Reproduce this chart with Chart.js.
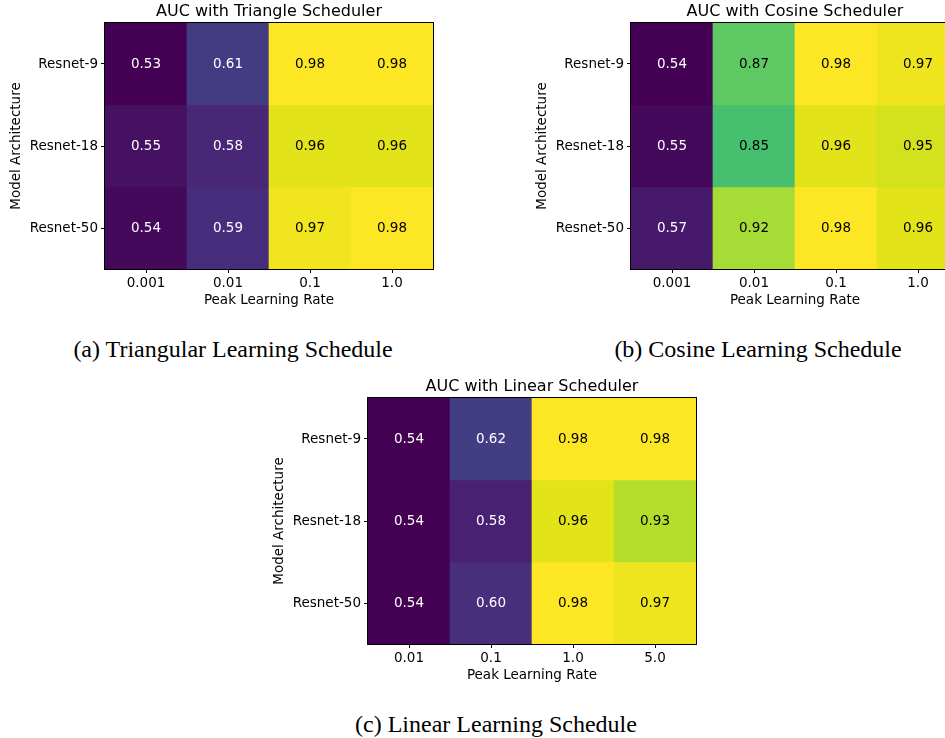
<!DOCTYPE html>
<html>
<head>
<meta charset="utf-8">
<script src="https://cdn.jsdelivr.net/npm/chart.js@4.4.1/dist/chart.umd.min.js"></script>
<style>
  html, body { margin: 0; padding: 0; background: #fff; width: 945px; height: 738px; overflow: hidden; }
  body { position: relative; }
  canvas { position: absolute; }
  .cap { position: absolute; width: 500px; text-align: center; font-family: 'Liberation Serif', 'Times New Roman', serif; font-size: 24px; line-height: 24px; color: #000; white-space: nowrap; }
</style>
</head>
<body>
<canvas id="triangle" width="450" height="320" style="left:0px;top:0px"></canvas>
<canvas id="cosine" width="450" height="320" style="left:526px;top:0px"></canvas>
<canvas id="linear" width="450" height="320" style="left:263px;top:375px"></canvas>
<div class="cap" style="left:-17px;top:337px">(a) Triangular Learning Schedule</div>
<div class="cap" style="left:508px;top:337px">(b) Cosine Learning Schedule</div>
<div class="cap" style="left:246px;top:712px">(c) Linear Learning Schedule</div>
<script>
// rows top to bottom
const models = ['Resnet-9', 'Resnet-18', 'Resnet-50'];

const lrTriangle = ['0.001', '0.01', '0.1', '1.0'];
const lrCosine = ['0.001', '0.01', '0.1', '1.0'];
const lrLinear = ['0.01', '0.1', '1.0', '5.0'];

const aucTriangle = [
  [0.53, 0.61, 0.98, 0.98],
  [0.55, 0.58, 0.96, 0.96],
  [0.54, 0.59, 0.97, 0.98]
];
const aucCosine = [
  [0.54, 0.87, 0.98, 0.97],
  [0.55, 0.85, 0.96, 0.95],
  [0.57, 0.92, 0.98, 0.96]
];
const aucLinear = [
  [0.54, 0.62, 0.98, 0.98],
  [0.54, 0.58, 0.96, 0.93],
  [0.54, 0.60, 0.98, 0.97]
];

// viridis colour map, sampled every 0.05
const viridis = ['#440154','#471365','#482475','#46337f','#414487','#3b528b','#355f8d','#2f6c8e','#2a788e','#25848e',
  '#21918c','#1e9b8a','#22a884','#2fb47c','#44bf70','#5ec962','#7ad151','#9fda3a','#bddf26','#dfe318','#fde725'];

function hexToRgb(h) {
  return [parseInt(h.slice(1,3),16), parseInt(h.slice(3,5),16), parseInt(h.slice(5,7),16)];
}
function cmap(t) {
  t = Math.max(0, Math.min(1, t));
  const pos = t * (viridis.length - 1);
  const i = Math.min(Math.floor(pos), viridis.length - 2);
  const f = pos - i;
  const a = hexToRgb(viridis[i]), b = hexToRgb(viridis[i+1]);
  const c = a.map((v, k) => Math.round(v + (b[k] - v) * f));
  return 'rgb(' + c.join(',') + ')';
}

Chart.defaults.font.family = 'DejaVu Sans';
Chart.defaults.font.size = 13.5;
Chart.defaults.color = '#000';

const heatPlugin = {
  id: 'heat',
  afterDatasetsDraw(chart) {
    const ctx = chart.ctx;
    const a = chart.chartArea;
    const xs = chart.scales.x, ys = chart.scales.y;
    const o = chart.options.plugins.heat;
    ctx.save();
    ctx.font = '13.5px DejaVu Sans';
    ctx.textAlign = 'center';
    ctx.textBaseline = 'middle';
    o.values.forEach((row, i) => {
      const r = o.values.length - 1 - i;
      row.forEach((v, j) => {
        const t = (v - o.min) / (o.max - o.min);
        ctx.fillStyle = t < 0.5 ? '#fff' : '#000';
        ctx.fillText(v.toFixed(2), xs.getPixelForValue(j), ys.getPixelForValue(r + 0.5));
      });
    });
    ctx.strokeStyle = '#000';
    ctx.lineWidth = 1;
    ctx.strokeRect(a.left - 0.5, a.top - 0.5, a.right - a.left + 1, a.bottom - a.top + 1);
    ctx.font = '16px DejaVu Sans';
    ctx.fillStyle = '#000';
    ctx.fillText(o.title, (a.left + a.right) / 2, 12);
    ctx.restore();
  }
};

function makeHeatmap(id, title, lrs, auc) {
  const flat = auc.flat();
  const min = Math.min(...flat), max = Math.max(...flat);
  const datasets = auc.map((row, i) => {
    const r = auc.length - 1 - i;
    return {
      label: models[i],
      data: row.map(() => [r, r + 1]),
      backgroundColor: row.map(v => cmap((v - min) / (max - min))),
      borderWidth: 0,
      barPercentage: 1,
      categoryPercentage: 1,
      grouped: false
    };
  });
  new Chart(document.getElementById(id), {
    type: 'bar',
    data: { labels: lrs, datasets: datasets },
    plugins: [heatPlugin],
    options: {
      responsive: false,
      animation: false,
      layout: { padding: { top: 23, right: 17, bottom: 11, left: 0 } },
      plugins: {
        legend: { display: false },
        tooltip: { enabled: false },
        heat: { values: auc, min: min, max: max, title: title }
      },
      scales: {
        x: {
          grid: { display: true, drawOnChartArea: false, drawTicks: true, tickLength: 4, color: '#000', offset: false },
          border: { display: false },
          ticks: { padding: 2, autoSkip: false, maxRotation: 0 },
          title: { display: true, text: 'Peak Learning Rate', padding: { top: 0, bottom: 0 } },
          afterFit(s) { s.height = 40; }
        },
        y: {
          min: 0,
          max: models.length,
          grid: { display: true, drawOnChartArea: false, drawTicks: true, tickLength: 4, color: '#000' },
          border: { display: false },
          ticks: {
            padding: 3,
            callback: v => models[models.length - 1 - Math.floor(v)]
          },
          afterBuildTicks(s) {
            s.ticks = models.map((m, i) => ({ value: i + 0.5 }));
          },
          title: { display: true, text: 'Model Architecture', padding: { top: 8, bottom: 0 } },
          afterFit(s) { s.width = 105; }
        }
      }
    }
  });
}

makeHeatmap('triangle', 'AUC with Triangle Scheduler', lrTriangle, aucTriangle);
makeHeatmap('cosine', 'AUC with Cosine Scheduler', lrCosine, aucCosine);
makeHeatmap('linear', 'AUC with Linear Scheduler', lrLinear, aucLinear);
</script>
</body>
</html>
